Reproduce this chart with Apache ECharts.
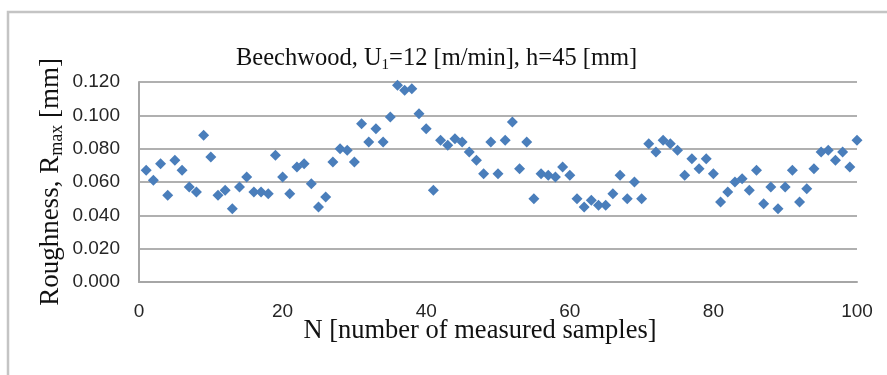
<!DOCTYPE html>
<html>
<head>
<meta charset="utf-8">
<script src="https://cdn.jsdelivr.net/npm/echarts@6/dist/echarts.min.js"></script>
<style>
html,body{margin:0;padding:0;background:#fff;}
#c{width:887px;height:375px;}
</style>
</head>
<body>
<div id="c"></div>
<script>
const sampleN = [1,2,3,4,5,6,7,8,9,10,11,12,13,14,15,16,17,18,19,20,
  21,22,23,24,25,26,27,28,29,30,31,32,33,34,35,36,37,38,39,40,
  41,42,43,44,45,46,47,48,49,50,51,52,53,54,55,56,57,58,59,60,
  61,62,63,64,65,66,67,68,69,70,71,72,73,74,75,76,77,78,79,80,
  81,82,83,84,85,86,87,88,89,90,91,92,93,94,95,96,97,98,99,100];
const roughness = [0.067,0.061,0.071,0.052,0.073,0.067,0.057,0.054,0.088,0.075,
  0.052,0.055,0.044,0.057,0.063,0.054,0.054,0.053,0.076,0.063,
  0.053,0.069,0.071,0.059,0.045,0.051,0.072,0.080,0.079,0.072,
  0.095,0.084,0.092,0.084,0.099,0.118,0.115,0.116,0.101,0.092,
  0.055,0.085,0.082,0.086,0.084,0.078,0.073,0.065,0.084,0.065,
  0.085,0.096,0.068,0.084,0.050,0.065,0.064,0.063,0.069,0.064,
  0.050,0.045,0.049,0.046,0.046,0.053,0.064,0.050,0.060,0.050,
  0.083,0.078,0.085,0.083,0.079,0.064,0.074,0.068,0.074,0.065,
  0.048,0.054,0.060,0.062,0.055,0.067,0.047,0.057,0.044,0.057,
  0.067,0.048,0.056,0.068,0.078,0.079,0.073,0.078,0.069,0.085];
const xTicks = [0, 20, 40, 60, 80, 100];
const yTicks = [0.000, 0.020, 0.040, 0.060, 0.080, 0.100, 0.120];

const points = sampleN.map((n, i) => [n, roughness[i]]);
const chart = echarts.init(document.getElementById('c'), null, {renderer: 'canvas'});
const serif = "'Liberation Serif', 'DejaVu Serif', serif";
const sans = "'Liberation Sans', Arial, sans-serif";
chart.setOption({
  animation: false,
  backgroundColor: '#ffffff',
  graphic: [{
    type: 'rect', silent: true, z: -10,
    shape: {x: 8, y: 12, width: 950, height: 420},
    style: {fill: 'none', stroke: '#c4c4c4', lineWidth: 2.5}
  }],
  title: {
    text: '{a|Beechwood, U}{s|1}{a|=12 [m/min], h=45 [mm]}',
    left: 231, top: 40,
    textStyle: {
      fontWeight: 'normal',
      rich: {
        a: {fontFamily: serif, fontSize: 24.5, fontWeight: 'normal', color: '#111', lineHeight: 28, verticalAlign: 'middle'},
        s: {fontFamily: serif, fontSize: 15, fontWeight: 'normal', color: '#111', lineHeight: 28, verticalAlign: 'bottom'}
      }
    }
  },
  grid: {left: 139, right: 30, top: 82, bottom: 93, containLabel: false},
  xAxis: {
    type: 'value', min: xTicks[0], max: xTicks[xTicks.length - 1], interval: 20,
    name: 'N [number of measured samples]', nameLocation: 'middle', nameGap: 36,
    nameMoveOverlap: false,
    nameTextStyle: {fontFamily: serif, fontSize: 26.5, color: '#111', padding: [0, 36, 0, 0]},
    axisLine: {show: true, lineStyle: {color: '#a6a6a6', width: 2}},
    axisTick: {show: false},
    splitLine: {show: false},
    axisLabel: {fontFamily: sans, fontSize: 19, color: '#262626', margin: 20}
  },
  yAxis: {
    type: 'value', min: yTicks[0], max: yTicks[yTicks.length - 1], interval: 0.02,
    name: '{a|Roughness, R}{s|max}{a| [mm]}', nameLocation: 'middle', nameGap: 73, nameRotate: 90,
    nameMoveOverlap: false,
    nameTextStyle: {
      rich: {
        a: {fontFamily: serif, fontSize: 27, color: '#111', lineHeight: 30, verticalAlign: 'middle'},
        s: {fontFamily: serif, fontSize: 18, color: '#111', lineHeight: 30, verticalAlign: 'bottom'}
      }
    },
    axisLine: {show: true, lineStyle: {color: '#a6a6a6', width: 2}},
    axisTick: {show: false},
    splitLine: {show: true, lineStyle: {color: '#b0b0b0', width: 2}},
    axisLabel: {fontFamily: sans, fontSize: 19, color: '#262626', margin: 19,
      formatter: v => v.toFixed(3)}
  },
  series: [{
    type: 'scatter',
    data: points,
    symbol: 'diamond',
    symbolSize: 11,
    itemStyle: {color: '#4a7ebb', opacity: 1},
    clip: false
  }]
});
</script>
</body>
</html>
